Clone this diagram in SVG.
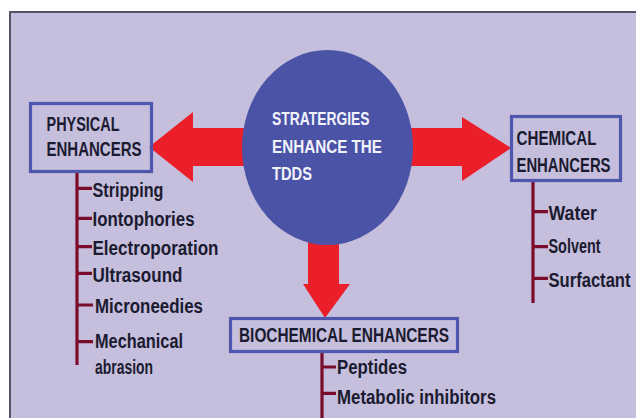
<svg xmlns="http://www.w3.org/2000/svg" width="636" height="418" viewBox="0 0 636 418">
  <style>
    .lbl { font-family: "Liberation Sans", Arial, sans-serif; font-weight: bold; font-size: 19.5px; fill: #1b1b30; }
    .ttl { font-family: "Liberation Sans", Arial, sans-serif; font-weight: bold; font-size: 19.5px; fill: #1b1b30; }
    .ctr { font-family: "Liberation Sans", Arial, sans-serif; font-weight: bold; font-size: 19px; fill: #f2f2fa; }
    .box { fill: none; stroke: #4f56ad; stroke-width: 3.2; }
    .tree { stroke: #7a0c2c; stroke-width: 3.2; fill: none; }
    .arrow { fill: #ea1f2a; }
  </style>

  <!-- page -->
  <rect x="0" y="0" width="636" height="418" fill="#ffffff"/>
  <rect x="10" y="12" width="640" height="420" fill="#c6bedd" stroke="#56526a" stroke-width="2"/>

  <g id="connectors">
    <!-- block arrows from the centre -->
    <polygon class="arrow" points="260,128 193,128 193,112 149,147 193,182 193,166 260,166"/>
    <polygon class="arrow" points="395,128 462,128 462,117 511,148 462,181 462,166 395,166"/>
    <polygon class="arrow" points="308,230 339,230 339,284 350,284 325,318 303,284 308,284"/>
    <!-- list trees -->
    <path class="tree" d="M77,172 V365 M77,188.3 H92 M77,218.3 H92 M77,246.7 H92 M77,273.3 H92 M77,305 H93 M77,341.7 H93"/>
    <path class="tree" d="M533,182 V303 M533,211.7 H548 M533,246.7 H548 M533,278.3 H548"/>
    <path class="tree" d="M322,353 V418 M322,367 H336 M322,393.3 H336"/>
  </g>

  <g id="center">
    <ellipse cx="327.5" cy="147.5" rx="85.5" ry="97.5" fill="#4a53a6"/>
    <text class="ctr" x="272" y="125" textLength="97.5" lengthAdjust="spacingAndGlyphs">STRATERGIES</text>
    <text class="ctr" x="272" y="153.3" textLength="110" lengthAdjust="spacingAndGlyphs">ENHANCE THE</text>
    <text class="ctr" x="272" y="180" textLength="40" lengthAdjust="spacingAndGlyphs">TDDS</text>
  </g>

  <g id="physical">
    <rect class="box" x="30.5" y="103.5" width="121" height="68"/>
    <text class="ttl" x="46.5" y="130.5" textLength="73" lengthAdjust="spacingAndGlyphs">PHYSICAL</text>
    <text class="ttl" x="46.5" y="156" textLength="95" lengthAdjust="spacingAndGlyphs">ENHANCERS</text>
    <text class="lbl" x="92.5" y="196.7" textLength="71" lengthAdjust="spacingAndGlyphs">Stripping</text>
    <text class="lbl" x="92.5" y="226" textLength="102" lengthAdjust="spacingAndGlyphs">Iontophories</text>
    <text class="lbl" x="92.5" y="255" textLength="126" lengthAdjust="spacingAndGlyphs">Electroporation</text>
    <text class="lbl" x="92.5" y="281.5" textLength="90" lengthAdjust="spacingAndGlyphs">Ultrasound</text>
    <text class="lbl" x="95" y="312.5" textLength="108" lengthAdjust="spacingAndGlyphs">Microneedies</text>
    <text class="lbl" x="95" y="348" textLength="88" lengthAdjust="spacingAndGlyphs">Mechanical</text>
    <text class="lbl" x="95" y="373.5" textLength="58" lengthAdjust="spacingAndGlyphs">abrasion</text>
  </g>

  <g id="chemical">
    <rect class="box" x="511.5" y="116.5" width="109" height="64"/>
    <text class="ttl" x="516.5" y="145" textLength="80" lengthAdjust="spacingAndGlyphs">CHEMICAL</text>
    <!-- squeezed horizontally so the label sits inside the box near the right edge -->
    <text class="ttl" transform="translate(516.5,171.5) scale(0.76,1)" x="0" y="0" textLength="123.7" lengthAdjust="spacingAndGlyphs">ENHANCERS</text>
    <text class="lbl" x="548.5" y="220" textLength="48.5" lengthAdjust="spacingAndGlyphs">Water</text>
    <text class="lbl" x="548.5" y="253" textLength="52" lengthAdjust="spacingAndGlyphs">Solvent</text>
    <text class="lbl" transform="translate(548.5,286.5) scale(0.85,1)" x="0" y="0" textLength="96.5" lengthAdjust="spacingAndGlyphs">Surfactant</text>
  </g>

  <g id="biochemical">
    <rect class="box" x="230.5" y="318.5" width="227" height="33"/>
    <text class="ttl" x="239" y="342" textLength="210" lengthAdjust="spacingAndGlyphs">BIOCHEMICAL ENHANCERS</text>
    <text class="lbl" x="337" y="374" textLength="70" lengthAdjust="spacingAndGlyphs">Peptides</text>
    <text class="lbl" x="337" y="404" textLength="159" lengthAdjust="spacingAndGlyphs">Metabolic inhibitors</text>
  </g>
</svg>
